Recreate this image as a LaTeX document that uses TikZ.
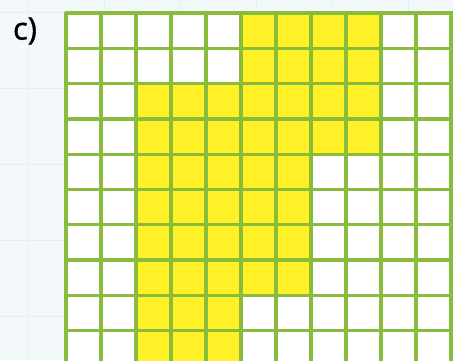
\documentclass[tikz,border=0pt]{standalone}
\usepackage{fontspec}
\setmainfont{Open Sans}
\newfontfamily\labelfont[FakeBold=1.2]{Open Sans}
\definecolor{bgc}{RGB}{243,249,251}
\definecolor{bgline}{RGB}{226,239,244}
\definecolor{gridgreen}{RGB}{138,188,60}
\definecolor{cellyellow}{RGB}{255,240,40}
\tikzset{
  cellfill/.style={fill=cellyellow, draw=none},
  gridline/.style={draw=gridgreen, line width=3.3pt},
  faint/.style={draw=bgline, line width=1pt}
}
\begin{document}
\begin{tikzpicture}[x=1pt,y=-1pt]
\useasboundingbox (0,0) rectangle (453,360);
\fill[bgc] (0,0) rectangle (453,360);
\begin{scope}
\clip (0,0) rectangle (453,360);
% faint background grid
\foreach \xx in {28,104,180,256,332,408} \draw[faint] (\xx,0) -- (\xx,360);
\foreach \yy in {12,88,164,240,316} \draw[faint] (0,\yy) -- (453,\yy);
% cell area
\def\cx{35}
\def\cy{35.3}
\fill[white] (66,13) rectangle (66+11*\cx,13+10*\cy);
% yellow cells
\fill[cellfill] (66+5*\cx,13) rectangle (66+9*\cx,13+2*\cy);
\fill[cellfill] (66+2*\cx,13+2*\cy) rectangle (66+9*\cx,13+4*\cy);
\fill[cellfill] (66+2*\cx,13+4*\cy) rectangle (66+7*\cx,13+8*\cy);
\fill[cellfill] (66+2*\cx,13+8*\cy) rectangle (66+5*\cx,13+10*\cy);
% grid lines
\foreach \i in {0,...,11} \draw[gridline] (66+\i*\cx,11.5) -- (66+\i*\cx,370);
\foreach \j in {0,...,10} \draw[gridline] (64.5,13+\j*\cy) -- (460,13+\j*\cy);
\end{scope}
\node[anchor=center, font=\labelfont\fontsize{31}{36}\selectfont, inner sep=0pt] (lbl) at (25,31) {c)};
\end{tikzpicture}
\end{document}
